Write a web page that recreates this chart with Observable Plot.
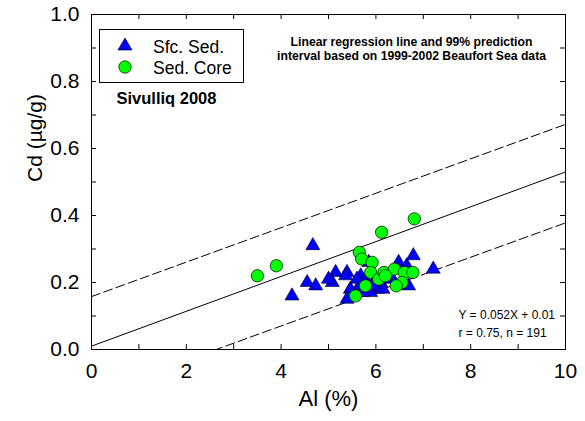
<!DOCTYPE html>
<html><head><meta charset="utf-8">
<script src="https://cdn.jsdelivr.net/npm/d3@7"></script>
<script src="https://cdn.jsdelivr.net/npm/@observablehq/plot@0.6"></script>
<style>body{margin:0;background:#fff} #chart{position:relative;width:585px;height:421px}</style>
</head><body><div id="chart"></div>
<script>
// Surface sediment (triangles)
const sfcAl = [4.67, 4.23, 4.55, 4.73, 5.15, 5.39, 5.08, 5.36, 5.68, 5.65, 5.46, 5.39, 6.79, 7.21, 6.48, 6.65, 6.69, 5.85, 6.03, 6.10, 6.24, 5.89, 5.71, 6.31, 5.82, 5.95, 6.00, 5.75, 5.60, 6.15, 5.00, 6.40];
const sfcCd = [0.31, 0.16, 0.20, 0.19, 0.23, 0.23, 0.20, 0.22, 0.22, 0.19, 0.18, 0.15, 0.28, 0.24, 0.26, 0.25, 0.19, 0.26, 0.18, 0.20, 0.21, 0.17, 0.17, 0.22, 0.20, 0.19, 0.21, 0.20, 0.21, 0.18, 0.21, 0.24];
// Sediment core (circles)
const coreAl = [6.81, 6.12, 5.65, 5.70, 5.92, 5.89, 5.78, 5.57, 6.06, 6.17, 6.39, 6.60, 6.78, 6.55, 6.43, 3.50, 3.90, 6.20];
const coreCd = [0.39, 0.35, 0.29, 0.27, 0.26, 0.23, 0.19, 0.16, 0.21, 0.23, 0.24, 0.23, 0.23, 0.20, 0.19, 0.22, 0.25, 0.22];
// Regression line and 99% prediction interval (end points)
const regAl = [0, 10];
const fitCd = [0.01, 0.53];
const upperCd = [0.158, 0.672];
const lowerCd = [-0.135, 0.378];
// Ticks
const xMinor = [0, 1, 2, 3, 4, 5, 6, 7, 8, 9, 10];
const yMinor = [0, 0.1, 0.2, 0.3, 0.4, 0.5, 0.6, 0.7, 0.8, 0.9, 1.0];
const xTickLabels = [0, 2, 4, 6, 8, 10];
const yTickLabels = [0, 0.2, 0.4, 0.6, 0.8, 1.0];

const font = "'Liberation Sans', Arial, Helvetica, sans-serif";
const W = 585, H = 421, mL = 91, mR = 20, mT = 14, mB = 72, tickLen = 5;
const frameW = W - mL - mR, frameH = H - mT - mB;
const sfc = sfcAl.map((x, i) => ({al: x, cd: sfcCd[i]}));
const core = coreAl.map((x, i) => ({al: x, cd: coreCd[i]}));
const reg = regAl.map((x, i) => ({al: x, fit: fitCd[i], up: upperCd[i], lo: lowerCd[i]}));

const svg = Plot.plot({
  width: W, height: H,
  marginLeft: mL, marginRight: mR, marginTop: mT, marginBottom: mB,
  style: {fontFamily: font, fontSize: "21px", background: "#fff", color: "#000"},
  x: {domain: [0, 10]},
  y: {domain: [0, 1]},
  marks: [
    Plot.line(reg, {x: "al", y: "up", stroke: "#000", strokeWidth: 1, strokeDasharray: "9,4", clip: true}),
    Plot.line(reg, {x: "al", y: "lo", stroke: "#000", strokeWidth: 1, strokeDasharray: "9,4", clip: true}),
    Plot.line(reg, {x: "al", y: "fit", stroke: "#000", strokeWidth: 1, clip: true}),
    Plot.dot(sfc, {x: "al", y: "cd", symbol: "triangle", r: 5.2, fill: "#0000ff", stroke: "#000", strokeWidth: 0.6}),
    Plot.dot(core, {x: "al", y: "cd", symbol: "circle", r: 6.2, fill: "#00ff00", stroke: "#000", strokeWidth: 0.7}),
    // inward ticks on all four sides
    Plot.ruleX(xMinor, {x: d => d, insetTop: frameH - tickLen, stroke: "#000"}),
    Plot.ruleX(xMinor, {x: d => d, insetBottom: frameH - tickLen, stroke: "#000"}),
    Plot.ruleY(yMinor, {y: d => d, insetRight: frameW - tickLen, stroke: "#000"}),
    Plot.ruleY(yMinor, {y: d => d, insetLeft: frameW - tickLen, stroke: "#000"}),
    Plot.axisX(xTickLabels, {anchor: "bottom", tickSize: 0, tickPadding: 14, tickFormat: d => String(d), label: null, fontSize: 21}),
    Plot.axisY(yTickLabels, {anchor: "left", tickSize: 0, tickPadding: 12, tickFormat: d => d.toFixed(1), label: null, fontSize: 21}),
    Plot.frame({stroke: "#000", strokeWidth: 1}),
    Plot.text(["Al (%)"], {text: d => d, frameAnchor: "bottom", lineAnchor: "middle", dy: 49, fontSize: 22}),
    Plot.text(["Cd (µg/g)"], {text: d => d, frameAnchor: "left", rotate: -90, dx: -56, fontSize: 21}),
    Plot.text(["Sivulliq 2008"], {text: d => d, frameAnchor: "top-left", textAnchor: "start", lineAnchor: "middle", dx: 25, dy: 84, fontSize: 16.5, fontWeight: "bold"}),
    Plot.text(["Linear regression line and 99% prediction\ninterval based on 1999-2002 Beaufort Sea data"], {text: d => d, frameAnchor: "top", lineAnchor: "middle", dx: 83, dy: 34, fontSize: 12.2, fontWeight: "bold", lineHeight: 1.15}),
    Plot.text(["Y = 0.052X + 0.01\nr = 0.75, n = 191"], {text: d => d, frameAnchor: "bottom-left", textAnchor: "start", lineAnchor: "middle", dx: 367, dy: -27, fontSize: 12, lineHeight: 1.5})
  ]
});

// Legend
const g = d3.select(svg).append("g").attr("font-family", font).attr("text-anchor", "start");
g.append("rect").attr("x", 99.5).attr("y", 29.5).attr("width", 144).attr("height", 53)
  .attr("fill", "#fff").attr("stroke", "#000").attr("stroke-width", 1);
const triR = 5.2, cirR = 6.2;
g.append("path").attr("transform", "translate(125,46)")
  .attr("d", d3.symbol(d3.symbolTriangle, triR * triR * Math.PI)())
  .attr("fill", "#0000ff").attr("stroke", "#000").attr("stroke-width", 0.6);
g.append("circle").attr("cx", 125).attr("cy", 67).attr("r", cirR)
  .attr("fill", "#00ff00").attr("stroke", "#000").attr("stroke-width", 0.7);
const legendLabels = ["Sfc. Sed.", "Sed. Core"];
legendLabels.forEach((t, i) => {
  g.append("text").attr("x", 153).attr("y", 52.5 + i * 21).attr("font-size", 17.5).attr("fill", "#000").text(t);
});

document.getElementById("chart").appendChild(svg);
</script>
</body></html>
